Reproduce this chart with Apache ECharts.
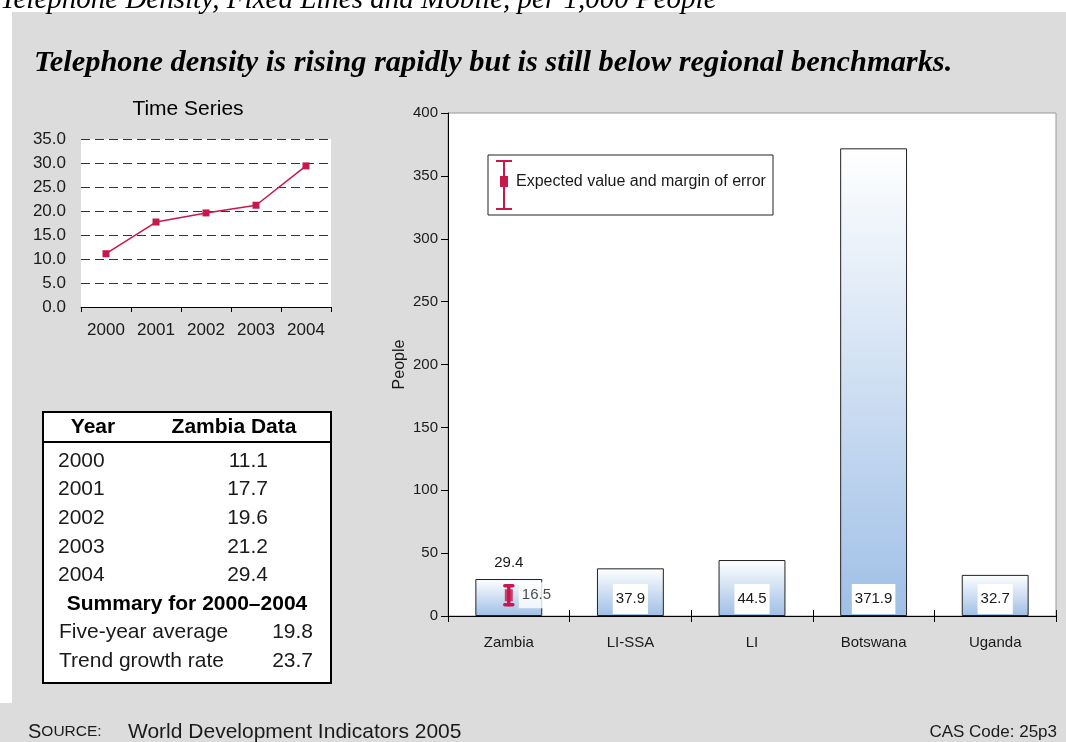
<!DOCTYPE html>
<html>
<head>
<meta charset="utf-8">
<script src="https://cdn.jsdelivr.net/npm/echarts@6/dist/echarts.min.js"></script>
<style>
  html, body { margin: 0; padding: 0; background: #ffffff; }
  #chart { width: 1066px; height: 742px; }
</style>
</head>
<body>
<div id="chart"></div>
<script>
// Zambia time series (telephone lines + mobiles per 1,000 people)
const years = ['2000', '2001', '2002', '2003', '2004'];
const zambiaDensity = [11.1, 17.7, 19.6, 21.2, 29.4];

// Summary rows of the data table
const summaryLabels = ['Five-year average', 'Trend growth rate'];
const summaryValues = ['19.8', '23.7'];

// Benchmark comparison
const countries = ['Zambia', 'LI-SSA', 'LI', 'Botswana', 'Uganda'];
const densityValues = [29.4, 37.9, 44.5, 371.9, 32.7];

// Expected value for Zambia with its margin of error
const expectedValue = 16.5;
const marginLow = 8.9;
const marginHigh = 24.1;

const CRIMSON = '#c8174a';
const SANS = 'Liberation Sans, Arial, sans-serif';
const SERIF = 'Liberation Serif, Times New Roman, serif';
const TEXT = '#1a1a1a';

const chart = echarts.init(document.getElementById('chart'), null, { renderer: 'canvas' });

// ---- table built from the arrays ----
const tableLeft = 43, tableRight = 331, tableTop = 412, tableBottom = 683;
const rowStep = 28.6, firstRowY = 461;
const tableEls = [
  { type: 'rect', shape: { x: tableLeft, y: tableTop, width: tableRight - tableLeft, height: tableBottom - tableTop },
    style: { fill: '#ffffff', stroke: '#000', lineWidth: 2 } },
  { type: 'line', shape: { x1: tableLeft, y1: 442, x2: tableRight, y2: 442 }, style: { stroke: '#000', lineWidth: 2 } },
  { type: 'text', x: 93, y: 427, style: { text: 'Year', font: 'bold 21px ' + SANS, fill: '#000', align: 'center', verticalAlign: 'middle' } },
  { type: 'text', x: 234, y: 427, style: { text: 'Zambia Data', font: 'bold 21px ' + SANS, fill: '#000', align: 'center', verticalAlign: 'middle' } }
];
years.forEach((yr, i) => {
  const y = firstRowY + i * rowStep;
  tableEls.push({ type: 'text', x: 58, y: y, style: { text: yr, font: '21px ' + SANS, fill: TEXT, align: 'left', verticalAlign: 'middle' } });
  tableEls.push({ type: 'text', x: 268, y: y, style: { text: zambiaDensity[i].toFixed(1), font: '21px ' + SANS, fill: TEXT, align: 'right', verticalAlign: 'middle' } });
});
const summaryY = firstRowY + years.length * rowStep;
tableEls.push({ type: 'text', x: 187, y: summaryY, style: { text: 'Summary for 2000\u20132004', font: 'bold 21px ' + SANS, fill: '#000', align: 'center', verticalAlign: 'middle' } });
summaryLabels.forEach((lab, i) => {
  const y = summaryY + (i + 1) * rowStep;
  tableEls.push({ type: 'text', x: 59, y: y, style: { text: lab, font: '21px ' + SANS, fill: TEXT, align: 'left', verticalAlign: 'middle' } });
  tableEls.push({ type: 'text', x: 313, y: y, style: { text: summaryValues[i], font: '21px ' + SANS, fill: TEXT, align: 'right', verticalAlign: 'middle' } });
});

// ---- legend box for the error-bar marker ----
const legendEls = [
  { type: 'rect', shape: { x: 488, y: 155, width: 285, height: 60 }, style: { fill: '#ffffff', stroke: '#222', lineWidth: 1 } },
  { type: 'line', shape: { x1: 504, y1: 161, x2: 504, y2: 209 }, style: { stroke: CRIMSON, lineWidth: 2 } },
  { type: 'line', shape: { x1: 496, y1: 161, x2: 512, y2: 161 }, style: { stroke: CRIMSON, lineWidth: 2 } },
  { type: 'line', shape: { x1: 496, y1: 209, x2: 512, y2: 209 }, style: { stroke: CRIMSON, lineWidth: 2 } },
  { type: 'rect', shape: { x: 500, y: 176, width: 8, height: 11 }, style: { fill: CRIMSON } },
  { type: 'text', x: 516, y: 182, style: { text: 'Expected value and margin of error', font: '16px ' + SANS, fill: TEXT, verticalAlign: 'middle' } }
];

const option = {
  backgroundColor: '#dcdcdc',
  animation: false,
  textStyle: { fontFamily: SANS },
  graphic: [
    // white margins around the shaded panel
    { type: 'rect', z: -10, shape: { x: 0, y: 0, width: 1066, height: 12 }, style: { fill: '#ffffff' } },
    { type: 'rect', z: -10, shape: { x: 0, y: 0, width: 12, height: 703 }, style: { fill: '#ffffff' } },
    { type: 'text', x: 0, y: 0, style: { text: 'Telephone Density, Fixed Lines and Mobile, per 1,000 People',
        font: 'italic 29px ' + SERIF, fill: '#000', verticalAlign: 'middle' } },
    { type: 'text', x: 34, y: 63, style: { text: 'Telephone density is rising rapidly but is still below regional benchmarks.',
        font: 'italic bold 30.4px ' + SERIF, fill: '#000', verticalAlign: 'middle' } },
    { type: 'text', x: 188, y: 109, style: { text: 'Time Series', font: '21px ' + SANS, fill: '#000', align: 'center', verticalAlign: 'middle' } },
    { type: 'group', children: tableEls },
    { type: 'group', z: 100, children: legendEls },
    { type: 'text', x: 28, y: 732, style: { text: '{a|S}{b|OURCE:}', verticalAlign: 'middle',
        rich: { a: { fontSize: 20, fontFamily: SANS, fill: TEXT, color: TEXT }, b: { fontSize: 15.5, fontFamily: SANS, fill: TEXT, color: TEXT } } } },
    { type: 'text', x: 128, y: 732, style: { text: 'World Development Indicators 2005', font: '21px ' + SANS, fill: TEXT, verticalAlign: 'middle' } },
    { type: 'text', x: 1057, y: 732, style: { text: 'CAS Code: 25p3', font: '17px ' + SANS, fill: TEXT, align: 'right', verticalAlign: 'middle' } }
  ],
  grid: [
    { left: 81, right: 735, top: 139, bottom: 435, show: true, backgroundColor: '#ffffff', borderWidth: 0, containLabel: false },
    { left: 448, right: 10, top: 113, bottom: 126, show: true, backgroundColor: '#ffffff', borderColor: '#999', borderWidth: 1, containLabel: false }
  ],
  xAxis: [
    { gridIndex: 0, type: 'category', data: years, boundaryGap: true,
      axisLine: { show: true, lineStyle: { color: '#000', width: 1 } },
      axisTick: { show: true, inside: false, length: 5, lineStyle: { color: '#000' } },
      axisLabel: { margin: 15, fontSize: 17, color: TEXT, fontFamily: SANS },
      splitLine: { show: false } },
    { gridIndex: 1, type: 'category', data: countries, boundaryGap: true,
      axisLine: { show: true, lineStyle: { color: '#000', width: 1 } },
      axisTick: { show: true, inside: true, length: 6, lineStyle: { color: '#000' } },
      axisLabel: { margin: 19, fontSize: 15, color: TEXT, fontFamily: SANS },
      splitLine: { show: false } },
    { gridIndex: 1, type: 'category', data: countries, boundaryGap: true, position: 'bottom',
      axisLine: { show: false },
      axisTick: { show: true, inside: false, length: 6, lineStyle: { color: '#000' } },
      axisLabel: { show: false }, splitLine: { show: false } }
  ],
  yAxis: [
    { gridIndex: 0, type: 'value', min: 0, max: 35, interval: 5,
      axisLine: { show: false }, axisTick: { show: false },
      axisLabel: { margin: 15, fontSize: 17, color: TEXT, fontFamily: SANS, formatter: v => v.toFixed(1) },
      splitLine: { show: true, lineStyle: { color: '#333', width: 1, type: [9, 5] } } },
    { gridIndex: 1, type: 'value', min: 0, max: 400, interval: 50,
      name: 'People', nameLocation: 'middle', nameGap: 40, nameRotate: 90, nameMoveOverlap: false,
      nameTextStyle: { fontSize: 16, color: TEXT, fontFamily: SANS },
      axisLine: { show: true, lineStyle: { color: '#000', width: 1 } },
      axisTick: { show: true, inside: false, length: 7, lineStyle: { color: '#000' } },
      axisLabel: { margin: 10, fontSize: 15, color: TEXT, fontFamily: SANS },
      splitLine: { show: false } }
  ],
  series: [
    { type: 'line', xAxisIndex: 0, yAxisIndex: 0, data: zambiaDensity,
      symbol: 'rect', symbolSize: 7, showSymbol: true,
      itemStyle: { color: CRIMSON }, lineStyle: { color: CRIMSON, width: 1.5 } },
    { type: 'bar', xAxisIndex: 1, yAxisIndex: 1, barWidth: '55%',
      data: densityValues.map((v, i) => i === 0
        ? { value: v, label: { position: 'top', distance: 8, backgroundColor: 'transparent', padding: 0 } }
        : v),
      itemStyle: {
        color: { type: 'linear', x: 0, y: 0, x2: 0, y2: 1,
          colorStops: [{ offset: 0, color: '#ffffff' }, { offset: 1, color: '#9fbfe6' }] },
        borderColor: '#222', borderWidth: 1
      },
      label: { show: true, position: 'insideBottom', distance: 2, backgroundColor: '#ffffff',
        padding: [7, 3, 7, 3], fontSize: 15, color: TEXT, fontFamily: SANS, lineHeight: 16,
        formatter: p => p.value.toFixed(1) } },
    { type: 'custom', xAxisIndex: 1, yAxisIndex: 1, z: 5,
      data: [[0, marginHigh, marginLow]],
      encode: { x: 0, y: [1, 2] },
      renderItem: function (params, api) {
        const top = api.coord([api.value(0), api.value(1)]);
        const bot = api.coord([api.value(0), api.value(2)]);
        const cap = 4;
        const st = { stroke: CRIMSON, lineWidth: 3.5, lineCap: 'round' };
        return { type: 'group', children: [
          { type: 'line', shape: { x1: top[0], y1: top[1], x2: bot[0], y2: bot[1] }, style: st },
          { type: 'line', shape: { x1: top[0] - cap, y1: top[1], x2: top[0] + cap, y2: top[1] }, style: st },
          { type: 'line', shape: { x1: bot[0] - cap, y1: bot[1], x2: bot[0] + cap, y2: bot[1] }, style: st }
        ] };
      } },
    { type: 'scatter', xAxisIndex: 1, yAxisIndex: 1, z: 6,
      data: [[countries[0], expectedValue]],
      symbol: 'rect', symbolSize: [8, 12], itemStyle: { color: CRIMSON },
      label: { show: true, position: 'right', distance: 6, backgroundColor: '#ffffff',
        padding: [1, 3, 9, 3], fontSize: 15, color: TEXT, fontFamily: SANS, lineHeight: 16,
        formatter: p => p.value[1].toFixed(1) } }
  ]
};

chart.setOption(option);
</script>
</body>
</html>
